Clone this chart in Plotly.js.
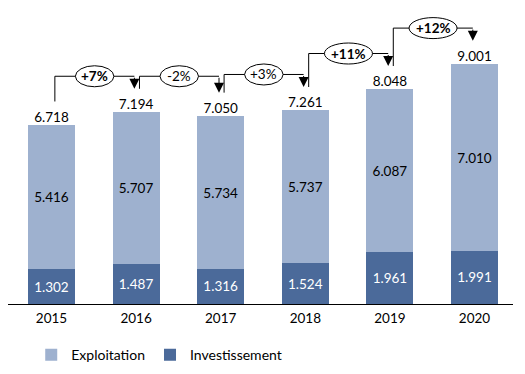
<!DOCTYPE html>
<html>
<head>
<meta charset="utf-8">
<script src="https://cdn.plot.ly/plotly-3.0.1.min.js"></script>
<style>html,body{margin:0;padding:0;background:#fff}#chart{width:525px;height:374px}</style>
</head>
<body>
<div id="chart"></div>
<script>
const years = ['2015', '2016', '2017', '2018', '2019', '2020'];
const exploitation = [5.416, 5.707, 5.734, 5.737, 6.087, 7.010];
const investissement = [1.302, 1.487, 1.316, 1.524, 1.961, 1.991];
const totals = [6.718, 7.194, 7.050, 7.261, 8.048, 9.001];
const growthLabels = ['+7%', '-2%', '+3%', '+11%', '+12%'];
const growthBold = [true, false, false, true, true];

const FONT = 'Lato, "Open Sans", sans-serif';
const LIGHT = '#9eb1cf';
const DARK = '#4b6a9a';

const traces = [
  {
    type: 'bar', name: 'Investissement', x: years, y: investissement,
    marker: {color: DARK}, texttemplate: '%{y:.3f}', textposition: 'inside',
    insidetextanchor: 'middle', textfont: {color: '#ffffff', size: 13.5, family: FONT},
    constraintext: 'none', hoverinfo: 'skip'
  },
  {
    type: 'bar', name: 'Exploitation', x: years, y: exploitation,
    marker: {color: LIGHT}, texttemplate: '%{y:.3f}', textposition: 'inside',
    insidetextanchor: 'middle', textfont: {color: '#000000', size: 13.5, family: FONT},
    constraintext: 'none', hoverinfo: 'skip'
  },
  {
    type: 'scatter', mode: 'text', x: years, y: totals, showlegend: false,
    text: totals.map(v => v.toFixed(3)), textposition: 'top center',
    textfont: {color: '#000000', size: 13.5, family: FONT}, hoverinfo: 'skip'
  }
];

const shapes = [];
const annotations = [];
for (let i = 0; i < growthLabels.length; i++) {
  const level = Math.max(totals[i], totals[i + 1]) + 1.35;
  const xs = i + 0.04;
  const xe = i + 1 - 0.02;
  const yStart = totals[i] + 0.88;
  const yTip = totals[i + 1] + 0.88;
  shapes.push({type: 'line', xref: 'x', yref: 'y', x0: xs, x1: xs, y0: yStart, y1: level, line: {color: '#000', width: 1}});
  shapes.push({type: 'line', xref: 'x', yref: 'y', x0: xs, x1: xe, y0: level, y1: level, line: {color: '#000', width: 1}});
  const lab = growthLabels[i];
  const w = 10 + 9.5 * lab.length;
  shapes.push({
    type: 'circle', xref: 'x', yref: 'y', xsizemode: 'pixel', ysizemode: 'pixel',
    xanchor: (xs + xe) / 2, yanchor: level, x0: -w / 2, x1: w / 2, y0: -10.5, y1: 10.5,
    line: {color: '#000', width: 1}, fillcolor: '#ffffff'
  });
  annotations.push({
    xref: 'x', yref: 'y', x: (xs + xe) / 2, y: level, showarrow: false,
    text: growthBold[i] ? '<b>' + lab + '</b>' : lab,
    font: {family: FONT, size: 13.5, color: '#000'}
  });
  annotations.push({
    xref: 'x', yref: 'y', axref: 'x', ayref: 'y', x: xe, y: yTip, ax: xe, ay: level,
    text: '', showarrow: true, arrowhead: 2, arrowsize: 2, arrowwidth: 1,
    arrowcolor: '#000', standoff: 0, startstandoff: 0
  });
}

const layout = {
  width: 525, height: 374,
  margin: {l: 8, r: 12, t: 10, b: 70},
  paper_bgcolor: '#ffffff', plot_bgcolor: '#ffffff',
  barmode: 'stack', bargap: 0.444,
  font: {family: FONT, size: 13.5, color: '#000'},
  xaxis: {
    type: 'category', range: [-0.514, 5.455], showline: true, linecolor: '#000', linewidth: 1,
    ticks: '', showgrid: false, zeroline: false, automargin: false, ticklabelstandoff: 2,
    tickfont: {size: 13.5, family: FONT, color: '#000'}
  },
  yaxis: {range: [0, 11.03], visible: false, showgrid: false, zeroline: false},
  showlegend: true,
  legend: {
    orientation: 'h', x: 0.046, xanchor: 'left', yref: 'container', y: 0.093, yanchor: 'top',
    traceorder: 'reversed', font: {size: 14, family: FONT, color: '#000'}
  },
  shapes: shapes,
  annotations: annotations
};

Plotly.newPlot('chart', traces, layout, {displayModeBar: false, staticPlot: true});
</script>
</body>
</html>
